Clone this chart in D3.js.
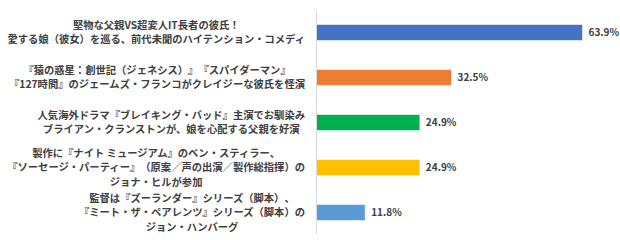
<!DOCTYPE html>
<html lang="ja">
  <head>
    <meta charset="utf-8">
    <title></title>
    <style>
      body { margin: 0; background: #fff; }
      text { font-family: "Noto Sans CJK JP", "Noto Sans", sans-serif; text-spacing-trim: space-all; }
    </style>
  </head>
  <body>
    <script src="https://d3js.org/d3.v7.min.js"></script>
    <script>
    // category labels (each one is a list of lines)
    var labels = [
        ["堅物な父親VS超変人IT長者の彼氏！", "愛する娘（彼女）を巡る、前代未聞のハイテンション・コメディ"],
        ["『猿の惑星：創世記（ジェネシス）』『スパイダーマン』", "『127時間』のジェームズ・フランコがクレイジーな彼氏を怪演"],
        ["人気海外ドラマ『ブレイキング・バッド』主演でお馴染み", "ブライアン・クランストンが、娘を心配する父親を好演"],
        ["製作に『ナイト ミュージアム』のベン・スティラー、", "『ソーセージ・パーティー』（原案／声の出演／製作総指揮）の", "ジョナ・ヒルが参加"],
        ["監督は『ズーランダー』シリーズ（脚本）、", "『ミート・ザ・ペアレンツ』シリーズ（脚本）の", "ジョン・ハンバーグ"]
    ];
    var values = [63.9, 32.5, 24.9, 24.9, 11.8];
    var colors = ["#4472C4", "#ED7D31", "#00B050", "#FFC000", "#5B9BD5"];

    var W = 620, H = 240;
    var axisX = 316, labelRight = 305;

    var svg = d3.select("body").append("svg")
        .attr("width", W)
        .attr("height", H);

    var y = d3.scaleBand()
        .domain(d3.range(values.length))
        .range([10, 235])
        .paddingInner(0.644)
        .paddingOuter(0.322);
    var x = d3.scaleLinear()
        .domain([0, 70])
        .range([axisX, 608]);

    svg.selectAll("rect.bar")
        .data(values)
        .enter()
        .append("rect")
        .attr("class", "bar")
        .attr("x", x(0))
        .attr("y", function(d, i) { return y(i); })
        .attr("width", function(d) { return x(d) - x(0); })
        .attr("height", y.bandwidth())
        .attr("fill", function(d, i) { return colors[i]; })
        .attr("stroke", "#fff")
        .attr("stroke-opacity", 0.6)
        .attr("stroke-width", 1);

    svg.append("line")
        .attr("x1", axisX + 0.5).attr("x2", axisX + 0.5)
        .attr("y1", 10).attr("y2", 234)
        .attr("stroke", "#d9d9d9")
        .attr("stroke-width", 1);

    svg.selectAll("text.val")
        .data(values)
        .enter()
        .append("text")
        .attr("class", "val")
        .attr("x", function(d) { return x(d) + 6; })
        .attr("y", function(d, i) { return y(i) + y.bandwidth() / 2; })
        .attr("dy", "0.35em")
        .attr("fill", "#404040")
        .attr("font-size", "10px")
        .attr("font-weight", "bold")
        .text(function(d) { return d.toFixed(1) + "%"; });

    var lineH = 14.6;
    var groups = svg.selectAll("g.label")
        .data(labels)
        .enter()
        .append("g")
        .attr("class", "label");

    groups.each(function(lines, i) {
        var g = d3.select(this);
        var cy = y(i) + y.bandwidth() / 2;
        var texts = g.selectAll("text")
            .data(lines)
            .enter()
            .append("text")
            .attr("text-anchor", "middle")
            .attr("y", function(d, j) { return cy + (j - (lines.length - 1) / 2) * lineH; })
            .attr("dy", "0.35em")
            .attr("fill", "#404040")
            .attr("font-size", "10.3px")
            .attr("font-weight", "bold")
            .text(function(d) { return d; });
        var maxW = 0;
        texts.each(function() { maxW = Math.max(maxW, this.getComputedTextLength()); });
        texts.attr("x", labelRight - maxW / 2);
    });
    </script>
  </body>
</html>
